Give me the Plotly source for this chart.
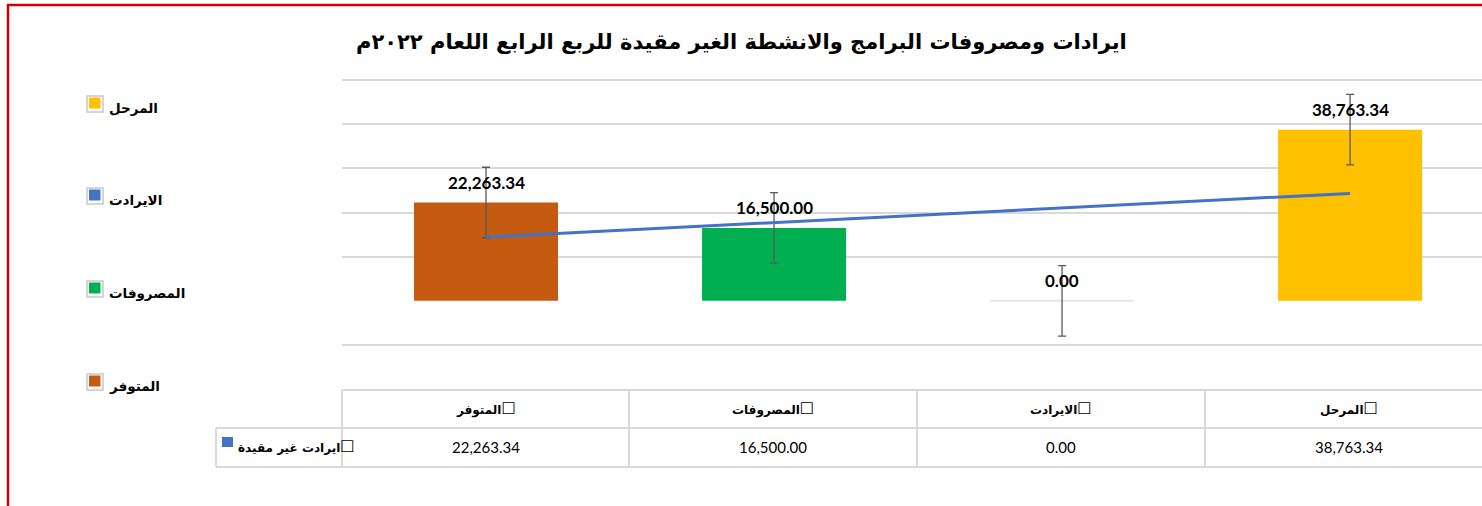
import plotly.graph_objects as go

# ---------------- data ----------------
title_text = "ايرادات ومصروفات البرامج والانشطة الغير مقيدة للربع الرابع اللعام ٢٠٢٢م"
categories = ["المتوفر", "المصروفات", "الايرادت", "المرحل"]
values = [22263.34, 16500.00, 0.00, 38763.34]
bar_colors = ["#C55A11", "#00B050", "#4472C4", "#FFC000"]
error_values = [7980, 7980, 7980, 7980]
trend_x = ["المتوفر", "المرحل"]
trend_values = [14430, 24330]
series_name = "ايرادت غير مقيدة"
legend_items = ["المرحل", "الايرادت", "المصروفات", "المتوفر"]
legend_colors = ["#FFC000", "#4472C4", "#00B050", "#C55A11"]
grid_vals = [-10000, 10000, 20000, 30000, 40000, 50000]

# ---------------- geometry helpers ----------------
W_PX, H_PX = 1482, 506
L, R, T, B = 342, 1482, 75, 351      # plot area in pixels
PW, PH = R - L, B - T


def px(x):
    return (x - L) / PW


def py(y):
    return (B - y) / PH


AR_FONT = "DejaVu Sans"
NUM_FONT = "Lato"
BOX = "<span style='font-size:16px'>☐</span>"

fig = go.Figure()

fig.add_trace(go.Bar(
    x=categories, y=values,
    marker=dict(color=bar_colors,
                line=dict(color=["rgba(0,0,0,0)", "rgba(0,0,0,0)", "#e6e6e6", "rgba(0,0,0,0)"], width=2)),
    error_y=dict(type="data", array=error_values, color="#595959", thickness=1.3, width=4),
    showlegend=False, hoverinfo="skip",
))

fig.add_trace(go.Scatter(
    x=trend_x, y=trend_values, mode="lines",
    line=dict(color="#4472C4", width=3), showlegend=False, hoverinfo="skip",
))

annotations = []
shapes = []

# data labels
for c, v in zip(categories, values):
    annotations.append(dict(
        x=c, y=v, xref="x", yref="y", text=f"{v:,.2f}", showarrow=False,
        yshift=20, font=dict(family=NUM_FONT, size=17, color="#000000", weight="bold"),
    ))

# title
annotations.append(dict(
    x=px(741), y=py(42), xref="paper", yref="paper", text=f"<b>{title_text}</b>",
    showarrow=False, xanchor="center", yanchor="middle",
    font=dict(family=AR_FONT, size=21, color="#000000"),
))

# left legend
leg_y = [104, 196, 289, 382]
for name, col, yc in zip(legend_items, legend_colors, leg_y):
    shapes.append(dict(type="rect", xref="paper", yref="paper",
                       x0=px(87), x1=px(103), y0=py(yc - 8), y1=py(yc + 8),
                       line=dict(color="#c8c8c8", width=1.5), fillcolor="#ffffff"))
    shapes.append(dict(type="rect", xref="paper", yref="paper",
                       x0=px(89), x1=px(100.5), y0=py(yc - 6.5), y1=py(yc + 4.5),
                       line=dict(width=0), fillcolor=col))
    annotations.append(dict(
        x=px(107), y=py(yc + 4), xref="paper", yref="paper", text=f"<b>{name}</b>",
        showarrow=False, xanchor="left", yanchor="middle",
        font=dict(family=AR_FONT, size=13.5, color="#000000"),
    ))

# data table
grid_col = "#d9d9d9"
col_edges = [342, 629, 917, 1205, 1482]
row_top, row_mid, row_bot = 390, 428, 467
shapes.append(dict(type="line", xref="paper", yref="paper", x0=px(342), x1=px(1482),
                   y0=py(row_top), y1=py(row_top), line=dict(color=grid_col, width=2)))
for yy in (row_mid, row_bot):
    shapes.append(dict(type="line", xref="paper", yref="paper", x0=px(216), x1=px(1482),
                       y0=py(yy), y1=py(yy), line=dict(color=grid_col, width=2)))
for xx in col_edges[:-1]:
    shapes.append(dict(type="line", xref="paper", yref="paper", x0=px(xx), x1=px(xx),
                       y0=py(row_top), y1=py(row_bot), line=dict(color=grid_col, width=2)))
shapes.append(dict(type="line", xref="paper", yref="paper", x0=px(216), x1=px(216),
                   y0=py(row_mid), y1=py(row_bot), line=dict(color=grid_col, width=2)))

for i, (c, v) in enumerate(zip(categories, values)):
    xc = (col_edges[i] + col_edges[i + 1]) / 2 if i < 3 else 1349
    annotations.append(dict(
        x=px(xc), y=py(408), xref="paper", yref="paper", text=f"<b>{c}</b>{BOX}",
        showarrow=False, xanchor="center", yanchor="middle",
        font=dict(family=AR_FONT, size=12, color="#000000"),
    ))
    annotations.append(dict(
        x=px(xc), y=py(447), xref="paper", yref="paper", text=f"{v:,.2f}",
        showarrow=False, xanchor="center", yanchor="middle",
        font=dict(family=NUM_FONT, size=15, color="#000000"),
    ))

annotations.append(dict(
    x=px(357), y=py(446), xref="paper", yref="paper", text=f"<b>{series_name}</b>{BOX}",
    showarrow=False, xanchor="right", yanchor="middle",
    font=dict(family=AR_FONT, size=12, color="#000000"),
))
shapes.append(dict(type="rect", xref="paper", yref="paper",
                   x0=px(222), x1=px(233), y0=py(447), y1=py(437),
                   line=dict(width=0), fillcolor="#4472C4"))

# red frame
shapes.append(dict(type="line", xref="paper", yref="paper", x0=px(8), x1=px(8),
                   y0=py(4), y1=py(510), line=dict(color="#d00000", width=2.5)))
shapes.append(dict(type="line", xref="paper", yref="paper", x0=px(7), x1=px(1490),
                   y0=py(5), y1=py(5), line=dict(color="#d00000", width=2.5)))

# y range so that -10000 sits at y=345 and 50000 at y=80
units_per_px = 60000 / (345 - 80)
y_zero_px = 345 - 10000 / units_per_px
y_top = (y_zero_px - T) * units_per_px
y_bot = (y_zero_px - B) * units_per_px

fig.update_layout(
    width=W_PX, height=H_PX,
    margin=dict(l=L, r=W_PX - R, t=T, b=H_PX - B, pad=0),
    paper_bgcolor="#ffffff", plot_bgcolor="#ffffff",
    bargap=0.5,
    xaxis=dict(range=[-0.5, 3.458], showticklabels=False, showgrid=False,
               zeroline=False, showline=False, ticks=""),
    yaxis=dict(range=[y_bot, y_top], tickvals=grid_vals, showticklabels=False,
               showgrid=True, gridcolor="#d9d9d9", gridwidth=1.5,
               zeroline=False, showline=False, ticks=""),
    annotations=annotations, shapes=shapes,
)

fig.write_html(
    "out.html",
    config={"displayModeBar": False},
    post_script="document.body.style.margin='0px';document.body.style.overflow='hidden';",
)
